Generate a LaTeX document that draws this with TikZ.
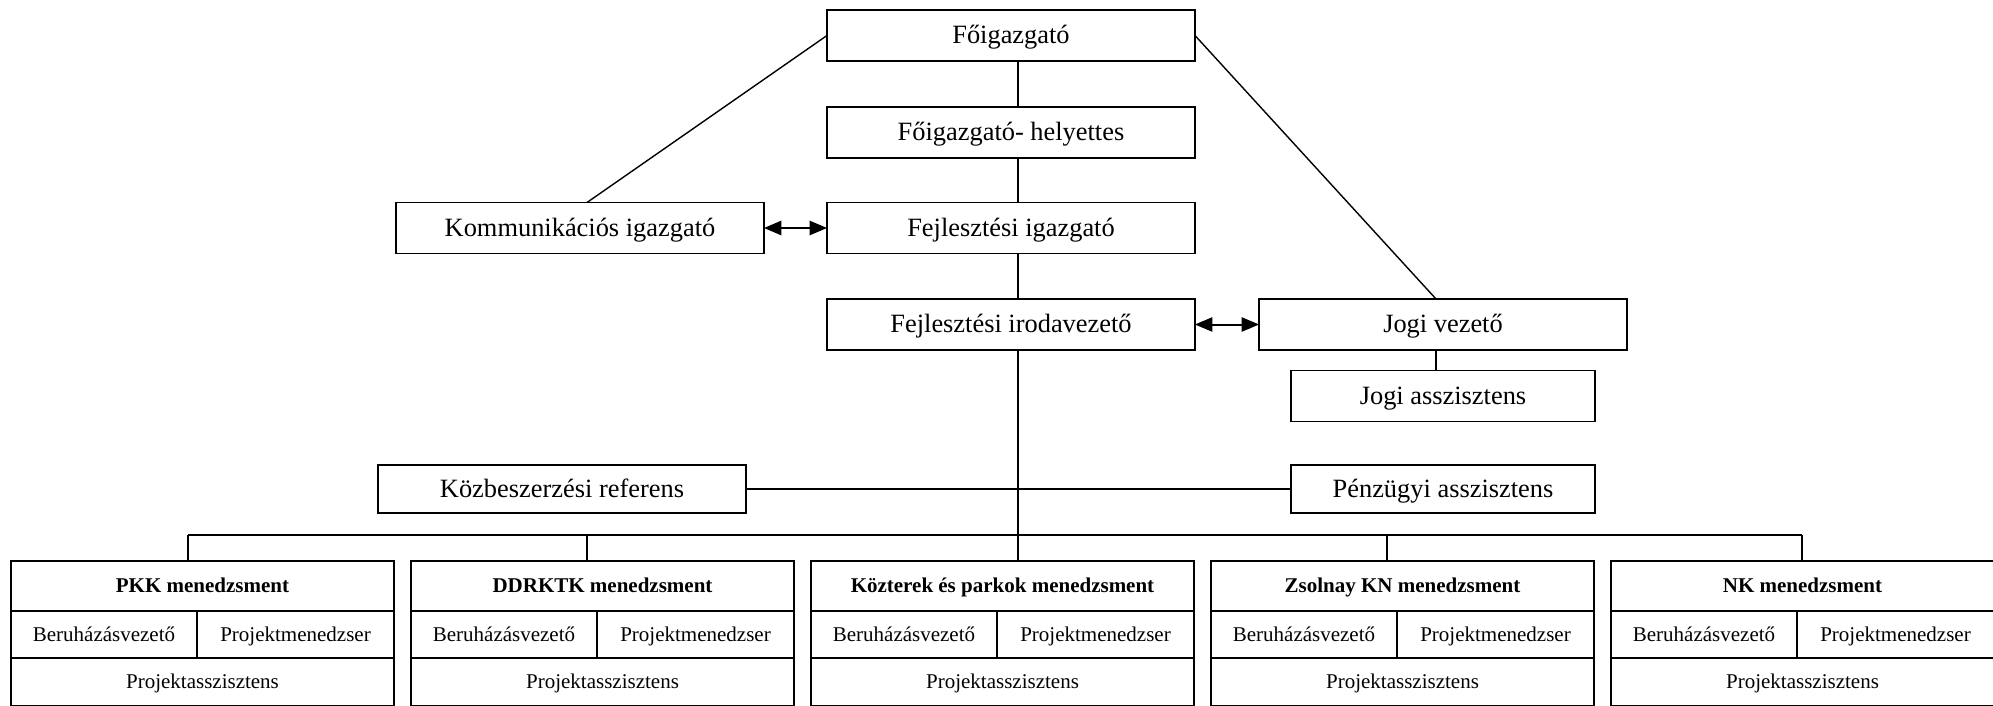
\documentclass[tikz,border=0pt]{standalone}
\usepackage{fontspec}
\setmainfont{Liberation Serif}
\usetikzlibrary{arrows}
\begin{document}
\begin{tikzpicture}[x=0.5pt,y=-0.5pt,
  box/.style={draw, line width=0.9pt, inner sep=0, outer sep=0, minimum width=184pt, minimum height=25.5pt, text height=0.9em, text depth=0.1em, font=\fontsize{13.2}{16}\selectfont},
  smallbox/.style={box, minimum width=152pt},
  cell/.style={draw, line width=0.9pt, inner sep=0, outer sep=0, minimum height=23.5pt, text height=0.8em, text depth=0.14em, font=\fontsize{10.5}{12}\selectfont},
  title/.style={cell, minimum width=191.5pt, minimum height=25pt, font=\fontsize{10.5}{12}\selectfont\bfseries},
  link/.style={line width=0.7pt},
  both/.style={line width=1pt, <->, >=triangle 45}]
\useasboundingbox (0,0) rectangle (1993,706);
\coordinate (spine) at (1018,0);
% upper part
\node[box] (fo) at (1011,35.5) {Főigazgató};
\node[box] (hely) at (1011,132.5) {Főigazgató- helyettes};
\node[box] (komm) at (580,228) {Kommunikációs igazgató};
\node[box] (fejl) at (1011,228) {Fejlesztési igazgató};
\node[box] (iroda) at (1011,324.5) {Fejlesztési irodavezető};
\node[box] (jogi) at (1443,324.5) {Jogi vezető};
\node[smallbox] (jasz) at (1443,396) {Jogi asszisztens};
\node[box, minimum height=24pt] (kozb) at (562,489) {Közbeszerzési referens};
\node[smallbox, minimum height=24pt] (penz) at (1443,489) {Pénzügyi asszisztens};
\draw[link] (fo.south -| spine) -- (hely.north -| spine);
\draw[link] (hely.south -| spine) -- (fejl.north -| spine);
\draw[link] (fejl.south -| spine) -- (iroda.north -| spine);
\draw[link] (fo.west) -- ([xshift=3.5pt]komm.north);
\draw[link] (fo.east) -- ([xshift=-3.5pt]jogi.north);
\draw[link] ([xshift=-3.5pt]jogi.south) -- ([xshift=-3.5pt]jasz.north);
\draw[both] (komm.east) -- (fejl.west);
\draw[both] (iroda.east) -- (jogi.west);
\draw[link] (kozb.east) -- (penz.west);
% units
\foreach \i/\lx/\drop/\name in {1/11/188/{PKK menedzsment}, 2/411/587/{DDRKTK menedzsment}, 3/811/1018/{Közterek és parkok menedzsment}, 4/1211/1387/{Zsolnay KN menedzsment}, 5/1611/1802/{NK menedzsment}} {
  \node[title, anchor=north west] (t\i) at (\lx,561) {\name};
  \node[cell, anchor=north west, minimum width=93pt] (b\i) at (t\i.south west) {Beruházásvezető};
  \node[cell, anchor=north west, minimum width=98.5pt] (p\i) at (b\i.north east) {Projektmenedzser};
  \node[cell, anchor=north west, minimum width=191.5pt, minimum height=24pt] (a\i) at (b\i.south west) {Projektasszisztens};
  \coordinate (d\i) at (\drop,535);
  \draw[link] (d\i) -- (t\i.north -| d\i);
}
\draw[link] (d1) -- (d5);
\draw[link] (iroda.south -| spine) -- (t3.north -| spine);
\end{tikzpicture}
\end{document}
